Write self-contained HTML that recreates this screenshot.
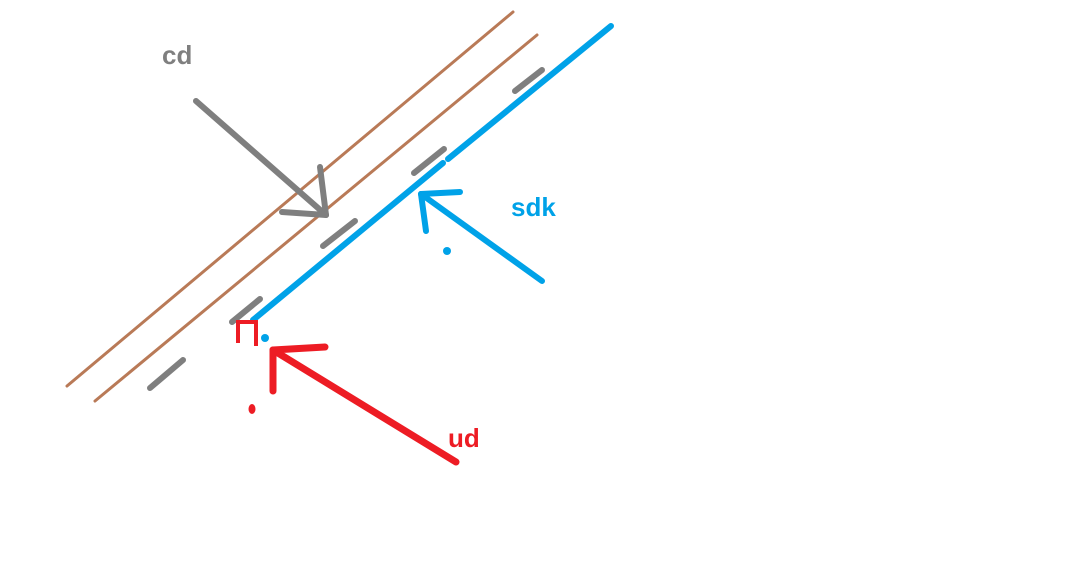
<!DOCTYPE html>
<html><head><meta charset="utf-8"><style>
html,body{margin:0;padding:0;background:#fff;width:1070px;height:574px;overflow:hidden}
svg{display:block}
text{font-family:"Liberation Sans",sans-serif;font-weight:bold;font-size:26px}
</style></head><body>
<svg width="1070" height="574" viewBox="0 0 1070 574">
<g stroke="#b97a57" stroke-width="3" stroke-linecap="round" fill="none">
<line x1="67" y1="386" x2="513" y2="12"/>
<line x1="95" y1="401" x2="537" y2="35"/>
</g>
<g stroke="#00a2e8" stroke-width="6" stroke-linecap="round" fill="none">
<line x1="253" y1="320" x2="443" y2="163"/>
<line x1="448" y1="159" x2="611" y2="26"/>
<polyline points="542,281 421,194"/>
<line x1="421" y1="194" x2="426" y2="231"/>
<line x1="421" y1="194" x2="460" y2="192"/>
</g>
<circle cx="447" cy="251" r="4" fill="#00a2e8"/>
<circle cx="265" cy="338" r="4" fill="#00a2e8"/>
<g stroke="#7f7f7f" stroke-width="6" stroke-linecap="round" fill="none">
<line x1="150" y1="388" x2="183" y2="360"/>
<line x1="232" y1="322" x2="260" y2="299"/>
<line x1="323" y1="246" x2="355" y2="221"/>
<line x1="414" y1="173" x2="444" y2="149"/>
<line x1="515" y1="91" x2="542" y2="70"/>
<line x1="196" y1="101" x2="326" y2="215"/>
<line x1="326" y1="215" x2="320" y2="167"/>
<line x1="326" y1="215" x2="282" y2="212"/>
</g>
<g stroke="#ed1c24" stroke-width="7" stroke-linecap="round" fill="none">
<line x1="456" y1="462" x2="273" y2="350"/>
<line x1="273" y1="350" x2="273" y2="391"/>
<line x1="273" y1="350" x2="325" y2="347"/>
</g>
<polyline points="238,343 238,322 256,322 256,346" stroke="#ed1c24" stroke-width="4" fill="none"/>
<ellipse cx="252" cy="409" rx="3.5" ry="5" fill="#ed1c24"/>
<text x="162" y="64" fill="#7f7f7f">cd</text>
<text x="511" y="216" fill="#00a2e8">sdk</text>
<text x="448" y="447" fill="#ed1c24">ud</text>
</svg>
</body></html>
